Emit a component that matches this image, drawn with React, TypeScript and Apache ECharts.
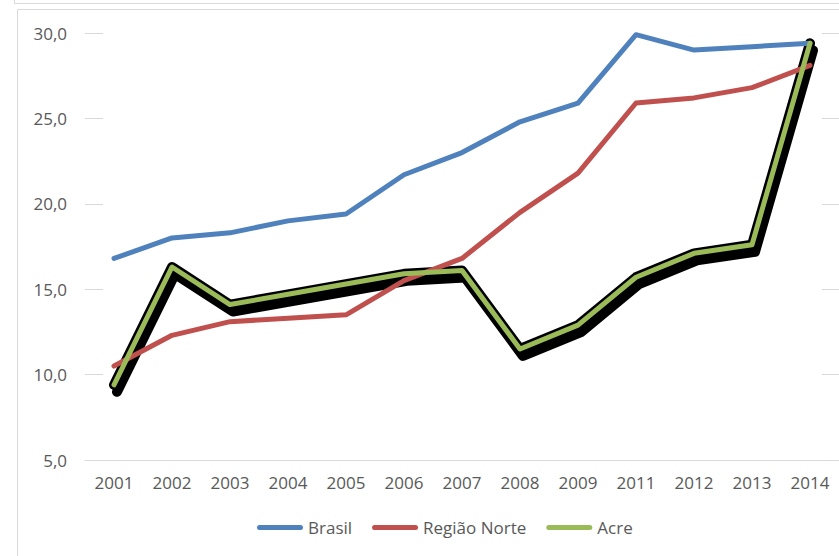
import React, { useEffect, useRef } from "react";
import * as echarts from "echarts";

const years = ["2001","2002","2003","2004","2005","2006","2007","2008","2009","2011","2012","2013","2014"];
const brasil = [16.8, 18.0, 18.3, 19.0, 19.4, 21.7, 23.0, 24.8, 25.9, 29.9, 29.0, 29.2, 29.4];
const regiaoNorte = [10.5, 12.3, 13.1, 13.3, 13.5, 15.5, 16.8, 19.5, 21.8, 25.9, 26.2, 26.8, 28.1];
const acre = [9.4, 16.3, 14.1, 14.7, 15.3, 15.9, 16.1, 11.5, 12.9, 15.7, 17.1, 17.6, 29.4];
const yTicks = { min: 5, max: 30, interval: 5 };

const FONT = "Open Sans";
const TXT = "#595959";
const GRID = "#d9d9d9";
const ICON = "path://M2.5,0 L43.5,0 A2.5,2.5 0 0 1 43.5,5 L2.5,5 A2.5,2.5 0 0 1 2.5,0 Z";

export default function App() {
  const ref = useRef<HTMLDivElement>(null);
  useEffect(() => {
    if (!ref.current) return;
    const chart = echarts.init(ref.current, null, { renderer: "svg" });
    const fmt = (v: number) => v.toFixed(1).replace(".", ",");
    chart.setOption({
      animation: false,
      backgroundColor: "#fff",
      textStyle: { fontFamily: FONT },
      grid: { left: 85, right: 0, top: 33, bottom: 96, containLabel: false },
      graphic: [
        { type: "line", shape: { x1: 14.5, y1: 0, x2: 14.5, y2: 3.5 }, style: { stroke: GRID, lineWidth: 1 } },
        { type: "line", shape: { x1: 14.5, y1: 3.5, x2: 839, y2: 3.5 }, style: { stroke: GRID, lineWidth: 1 } },
        { type: "line", shape: { x1: 17.5, y1: 9.5, x2: 839, y2: 9.5 }, style: { stroke: GRID, lineWidth: 1 } },
        { type: "line", shape: { x1: 17.5, y1: 9.5, x2: 17.5, y2: 556 }, style: { stroke: GRID, lineWidth: 1 } },
      ],
      legend: {
        data: ["Brasil", "Região Norte", "Acre"],
        left: 257,
        top: 519,
        padding: 0,
        icon: ICON,
        itemWidth: 46,
        itemHeight: 5,
        itemGap: 20,
        textStyle: { fontFamily: FONT, fontSize: 17, color: TXT },
      },
      xAxis: {
        type: "category",
        data: years,
        boundaryGap: true,
        axisLine: { show: true, lineStyle: { color: GRID, width: 1 } },
        axisTick: { show: false },
        axisLabel: { color: TXT, fontSize: 17, fontFamily: FONT, margin: 14 },
        splitLine: { show: false },
      },
      yAxis: [
        {
          type: "value",
          ...yTicks,
          axisLine: { show: false },
          axisTick: { show: true, inside: true, length: 18, lineStyle: { color: GRID, width: 1 } },
          axisLabel: { color: TXT, fontSize: 17, fontFamily: FONT, margin: 18, formatter: fmt },
          splitLine: { show: false },
        },
        {
          type: "value",
          position: "right",
          ...yTicks,
          axisLine: { show: false },
          axisTick: { show: true, inside: true, length: 17, lineStyle: { color: GRID, width: 1 } },
          axisLabel: { show: false },
          splitLine: { show: false },
        },
      ],
      series: [
        {
          name: "AcreSombra",
          type: "line",
          data: acre,
          symbol: "none",
          z: 1,
          lineStyle: {
            color: "#000",
            width: 10,
            cap: "round",
            join: "round",
            shadowColor: "#000",
            shadowBlur: 1,
            shadowOffsetX: 3,
            shadowOffsetY: 7,
          },
        },
        {
          name: "Brasil",
          type: "line",
          data: brasil,
          symbol: "none",
          z: 2,
          color: "#4F81BD",
          itemStyle: { color: "#4F81BD" },
          lineStyle: { color: "#4F81BD", width: 5, cap: "round", join: "round" },
        },
        {
          name: "Região Norte",
          type: "line",
          data: regiaoNorte,
          symbol: "none",
          z: 3,
          color: "#C0504D",
          itemStyle: { color: "#C0504D" },
          lineStyle: { color: "#C0504D", width: 5, cap: "round", join: "round" },
        },
        {
          name: "Acre",
          type: "line",
          data: acre,
          symbol: "none",
          z: 4,
          color: "#9BBB59",
          itemStyle: { color: "#9BBB59" },
          lineStyle: { color: "#9BBB59", width: 5, cap: "round", join: "round" },
        },
      ],
    });
    return () => chart.dispose();
  }, []);
  return (
    <div
      ref={ref}
      style={{ position: "fixed", left: 0, top: 0, width: 839, height: 556, background: "#fff" }}
    />
  );
}
